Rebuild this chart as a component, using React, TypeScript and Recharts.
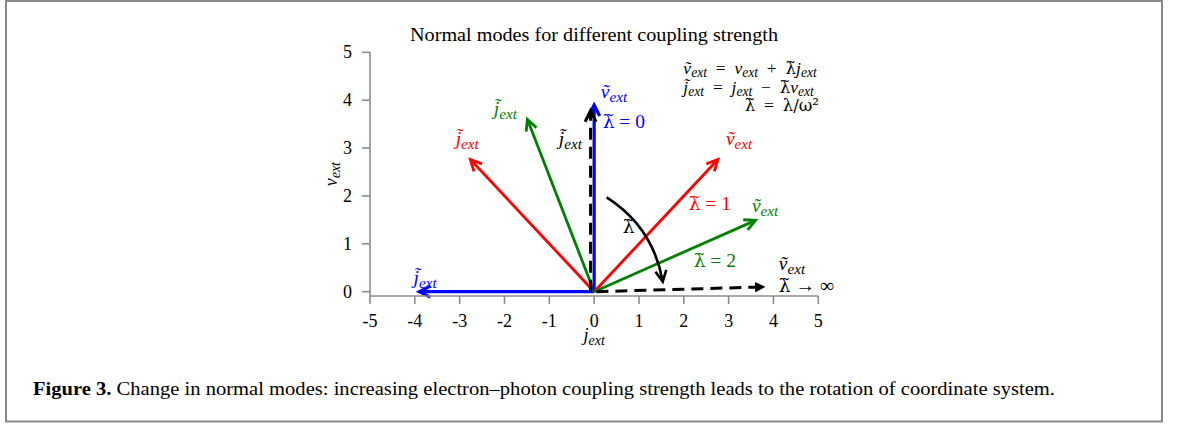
import React from "react"
import { ComposedChart, XAxis, YAxis, ReferenceLine, ReferenceDot, Scatter } from "recharts"

const xTicks = [-5, -4, -3, -2, -1, 0, 1, 2, 3, 4, 5]
const yTicks = [0, 1, 2, 3, 4, 5]

// rotated axes for λ̃ = 0, 1, 2 (tips of ṽ and j̃)
const lambdaSteps = ["0", "1", "2"]
const vTips = [
  [0, 3.9],
  [2.76, 2.76],
  [3.6, 1.49],
]
const jTips = [
  [-3.9, 0],
  [-2.76, 2.76],
  [-1.49, 3.6],
]

// λ̃ → ∞ limit, drawn dashed
const limitV = [
  [0.05, 0],
  [3.8, 0.1],
]
const limitJ = [
  [-0.08, 0],
  [-0.08, 3.78],
]

// curved arrow showing growing λ̃
const sweep = [
  [0.28, 1.97],
  [1.53, 0.21],
]

const modeColors = ["#0000ff", "#ff0000", "#008000"]
const serif = "'Liberation Serif', serif"
const greek = "'DejaVu Serif', serif"

type Part = { t: string; sub?: boolean; up?: boolean; gr?: boolean }

const vt: Part[] = [{ t: "v\u0303" }, { t: "ext", sub: true }]
const jt: Part[] = [{ t: "j\u0303" }, { t: "ext", sub: true }]
const lt: Part = { t: "\u03bb\u0303", up: true, gr: true }
const lam = (rest: string): Part[] => [lt, { t: rest, up: true }]
const sp = "\u2002"

function MathText({ x, y, parts, fill = "#000", size = 17, anchor = "start", rotate = false }: any) {
  let inSub = false
  return (
    <text
      x={x}
      y={y}
      fill={fill}
      fontFamily={serif}
      fontSize={size}
      textAnchor={anchor}
      transform={rotate ? `rotate(-90 ${x} ${y})` : undefined}
    >
      {parts.map((p: Part, i: number) => {
        const dy = p.sub && !inSub ? 3.5 : !p.sub && inSub ? -3.5 : 0
        inSub = !!p.sub
        return (
          <tspan
            key={i}
            dy={dy}
            fontSize={p.sub ? size * 0.78 : p.gr ? size * 0.95 : size}
            fontFamily={p.gr ? greek : undefined}
            fontStyle={p.up ? "normal" : "italic"}
          >
            {p.t}
          </tspan>
        )
      })}
    </text>
  )
}

// labels: [x, y (baseline), parts, color]
const labelSpots: [number, number, Part[], string][] = [
  [0.15, 4.04, vt, modeColors[0]],
  [0.19, 3.42, lam(" = " + lambdaSteps[0]), modeColors[0]],
  [-0.79, 3.06, jt, "#000"],
  [-2.24, 3.69, jt, modeColors[2]],
  [-3.09, 3.06, jt, modeColors[1]],
  [2.94, 3.06, vt, modeColors[1]],
  [2.11, 1.71, lam(" = " + lambdaSteps[1]), modeColors[1]],
  [3.52, 1.66, vt, modeColors[2]],
  [0.64, 1.23, [lt], "#000"],
  [2.22, 0.52, lam(" = " + lambdaSteps[2]), modeColors[2]],
  [4.12, 0.45, vt, "#000"],
  [4.12, 0.0, lam(" \u2192 \u221e"), "#000"],
  [-4.03, 0.16, jt, modeColors[0]],
]

// legend of definitions in the upper right
const equations: [number, number, Part[]][] = [
  [1.99, 4.55, [...vt, { t: sp + "=" + sp, up: true }, { t: "v" }, { t: "ext", sub: true }, { t: sp + "+" + sp, up: true }, lt, { t: "j" }, { t: "ext", sub: true }]],
  [1.99, 4.16, [...jt, { t: sp + "=" + sp, up: true }, { t: "j" }, { t: "ext", sub: true }, { t: sp + "\u2212" + sp, up: true }, lt, { t: "v" }, { t: "ext", sub: true }]],
  [3.36, 3.77, [lt, { t: sp + "=" + sp, up: true }, { t: "\u03bb/\u03c9\u00b2", up: true, gr: true }]],
]

function arrowShape(color: string, width: number, dash?: string, filled = false, curve = 0) {
  return (p: any) => {
    const x1 = +p.x1, y1 = +p.y1, x2 = +p.x2, y2 = +p.y2
    let cx = (x1 + x2) / 2, cy = (y1 + y2) / 2
    if (curve) {
      cx += curve * (y2 - y1)
      cy -= curve * (x2 - x1)
    }
    const dx = curve ? x2 - cx : x2 - x1
    const dy = curve ? y2 - cy : y2 - y1
    const len = Math.hypot(dx, dy) || 1
    const ux = dx / len, uy = dy / len
    const L = filled ? 9 : 11, W = filled ? 4.5 : 5.5
    const bx = x2 - L * ux, by = y2 - L * uy
    const lx = bx - W * uy, ly = by + W * ux
    const rx = bx + W * uy, ry = by - W * ux
    const ex = filled ? bx : x2, ey = filled ? by : y2
    const body = curve ? `M${x1},${y1} Q${cx},${cy} ${ex},${ey}` : `M${x1},${y1} L${ex},${ey}`
    return (
      <g>
        <path d={body} fill="none" stroke={color} strokeWidth={width} strokeDasharray={dash} />
        {filled ? (
          <path d={`M${x2},${y2} L${lx},${ly} L${rx},${ry} Z`} fill={color} stroke={color} strokeWidth={1} />
        ) : (
          <path d={`M${lx},${ly} L${x2},${y2} L${rx},${ry}`} fill="none" stroke={color} strokeWidth={width} />
        )}
      </g>
    )
  }
}

const seg = (a: number[], b: number[]) => [
  { x: a[0], y: a[1] },
  { x: b[0], y: b[1] },
]

const XTick = ({ x, y, payload }: any) => (
  <text x={x} y={y} dy="0.71em" textAnchor="middle" fontFamily={serif} fontSize={18} fill="#000">
    {payload.value}
  </text>
)
const YTick = ({ x, y, payload }: any) => (
  <text x={x} y={y} dy="0.34em" textAnchor="end" fontFamily={serif} fontSize={18} fill="#000">
    {payload.value}
  </text>
)

// tip points feed the axes; the arrows themselves mark them
const tipPoints = [...vTips, ...jTips].map(([x, y]) => ({ x, y }))

export default function App() {
  const axisStroke = { stroke: "#8c8c8c", strokeWidth: 1.6 }
  return (
    <div style={{ position: "absolute", left: 0, top: 0, width: 1179, height: 426, background: "#fff" }}>
      <ComposedChart
        width={1179}
        height={426}
        data={tipPoints}
        margin={{ top: 52.3, right: 360.7, bottom: 100, left: 330 }}
        style={{ position: "absolute", left: 0, top: 0 }}
      >
        <XAxis
          type="number"
          dataKey="x"
          domain={[-5, 5]}
          ticks={xTicks}
          interval={0}
          height={30}
          tickSize={8}
          tickMargin={10}
          axisLine={axisStroke}
          tickLine={axisStroke}
          tick={XTick}
          label={{
            content: (lp: any) => {
              const vb = lp.viewBox || { x: 370, y: 296, width: 448 }
              return (
                <MathText
                  x={vb.x + vb.width / 2}
                  y={vb.y + 45}
                  anchor="middle"
                  size={18}
                  parts={[{ t: "j" }, { t: "ext", sub: true }]}
                />
              )
            },
          }}
        />
        <YAxis
          type="number"
          dataKey="y"
          domain={[-0.09, 5]}
          ticks={yTicks}
          interval={0}
          width={40}
          tickSize={8}
          tickMargin={10}
          axisLine={axisStroke}
          tickLine={axisStroke}
          tick={YTick}
          label={{
            content: (lp: any) => {
              const vb = lp.viewBox || { x: 330, y: 52, height: 244 }
              return (
                <MathText
                  x={vb.x + 7}
                  y={vb.y + vb.height / 2}
                  anchor="middle"
                  size={18}
                  rotate
                  parts={[{ t: "v" }, { t: "ext", sub: true }]}
                />
              )
            },
          }}
        />
        <Scatter data={tipPoints} dataKey="y" shape={() => <g />} isAnimationActive={false} />

        {lambdaSteps.map((s, i) => (
          <ReferenceLine
            key={"j" + s}
            segment={seg([0, 0], jTips[i])}
            shape={arrowShape(modeColors[i], i === 0 ? 3.2 : 2.8)}
          />
        ))}
        {lambdaSteps.map((s, i) => (
          <ReferenceLine
            key={"v" + s}
            segment={seg([0, 0], vTips[i])}
            shape={arrowShape(modeColors[i], i === 0 ? 3.2 : 2.8)}
          />
        ))}
        <ReferenceLine segment={seg(limitJ[0], limitJ[1])} shape={arrowShape("#000", 3, "12 7")} />
        <ReferenceLine segment={seg(limitV[0], limitV[1])} shape={arrowShape("#000", 3, "12 7", true)} />
        <ReferenceLine segment={seg(sweep[0], sweep[1])} shape={arrowShape("#000", 2.6, undefined, false, 0.22)} />

        {labelSpots.map(([x, y, parts, color], i) => (
          <ReferenceDot
            key={"l" + i}
            x={x}
            y={y}
            r={0}
            ifOverflow="visible"
            shape={(p: any) => <MathText x={p.cx} y={p.cy} parts={parts} fill={color} size={19.5} />}
          />
        ))}
        {equations.map(([x, y, parts], i) => (
          <ReferenceDot
            key={"e" + i}
            x={x}
            y={y}
            r={0}
            ifOverflow="visible"
            shape={(p: any) => <MathText x={p.cx} y={p.cy} parts={parts} size={17.5} />}
          />
        ))}
      </ComposedChart>

      <svg width={1179} height={426} style={{ position: "absolute", left: 0, top: 0, pointerEvents: "none" }}>
        <rect x={6} y={1} width={1156} height={420.5} fill="none" stroke="#8a8a8a" strokeWidth={2} />
        <text x={594} y={41} textAnchor="middle" fontFamily={serif} fontSize={18.5} textLength={368} lengthAdjust="spacingAndGlyphs">
          Normal modes for different coupling strength
        </text>
        <text x={33} y={395} fontFamily={serif} fontSize={19} textLength={1022} lengthAdjust="spacingAndGlyphs">
          <tspan fontWeight="bold">Figure 3.</tspan> Change in normal modes: increasing electron–photon coupling strength
          leads to the rotation of coordinate system.
        </text>
      </svg>
    </div>
  )
}
